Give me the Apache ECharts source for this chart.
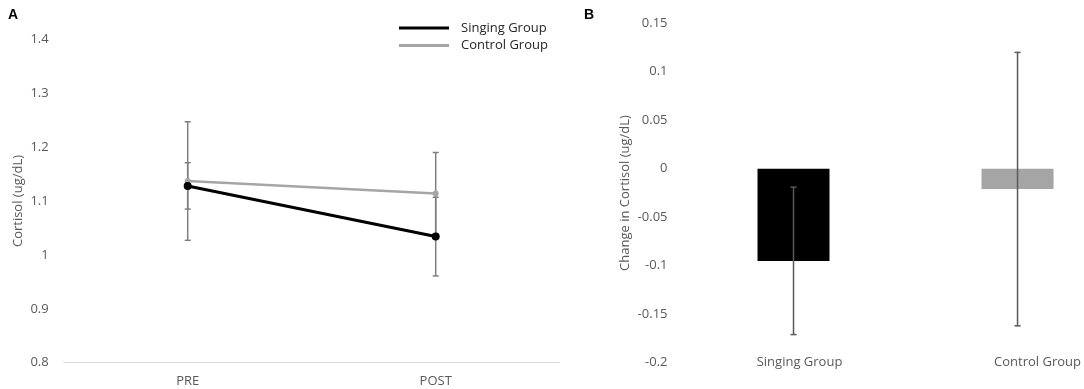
<!DOCTYPE html>
<html lang="en">

<head>
  <meta charset="UTF-8">
  <title>Cortisol</title>
  <script src="https://cdn.jsdelivr.net/npm/echarts@6/dist/echarts.min.js"></script>
  <style>
    * {
      margin: 0;
      padding: 0;
      box-sizing: border-box;
    }

    #chart {
      width: 1084px;
      height: 389px;
      background: #fff;
    }
  </style>
</head>

<body>
  <div id="chart"></div>

  <script>
    // panel A: cortisol at PRE / POST
    const timepoints = ['PRE', 'POST'];
    const singingMean = [1.128, 1.034];
    const singingErr = [0.043, 0.073];
    const controlMean = [1.137, 1.114];
    const controlErr = [0.110, 0.076];
    const cortisolTicks = { min: 0.8, max: 1.4, step: 0.1 };

    // panel B: change in cortisol
    const groups = ['Singing Group', 'Control Group'];
    const changeMean = [-0.095, -0.021];
    const changeErr = [0.076, 0.141];
    const changeTicks = { min: -0.2, max: 0.15, step: 0.05 };

    const FONT = '"Open Sans", sans-serif';
    const labelColor = '#595959';

    // [category index, low, high] for the custom error bar series
    function errRows(mean, err) {
      return mean.map((m, i) => [i, m - err[i], m + err[i]]);
    }

    function errBar(color) {
      return function (params, api) {
        const lo = api.coord([api.value(0), api.value(1)]);
        const hi = api.coord([api.value(0), api.value(2)]);
        const cap = 3;
        const style = { stroke: color, lineWidth: 1.5 };
        return {
          type: 'group',
          children: [
            { type: 'line', shape: { x1: lo[0], y1: lo[1], x2: hi[0], y2: hi[1] }, style },
            { type: 'line', shape: { x1: lo[0] - cap, y1: lo[1], x2: lo[0] + cap, y2: lo[1] }, style },
            { type: 'line', shape: { x1: hi[0] - cap, y1: hi[1], x2: hi[0] + cap, y2: hi[1] }, style }
          ]
        };
      };
    }

    const myChart = echarts.init(document.getElementById('chart'));

    const option = {
      animation: false,
      textStyle: { fontFamily: FONT },
      title: [
        { text: 'A', left: 3, top: 3, textStyle: { fontFamily: 'Liberation Sans', fontWeight: 'bold', fontSize: 14, color: '#000' } },
        { text: 'B', left: 579, top: 3, textStyle: { fontFamily: 'Liberation Sans', fontWeight: 'bold', fontSize: 14, color: '#000' } }
      ],
      legend: {
        data: ['Singing Group', 'Control Group'],
        orient: 'vertical',
        left: 394,
        top: 16,
        icon: 'rect',
        itemWidth: 50,
        itemHeight: 3,
        itemGap: 3.4,
        textStyle: { fontFamily: FONT, fontSize: 13, color: '#262626', lineHeight: 14, padding: [0, 0, 0, 7] }
      },
      grid: [
        { left: 63.7, top: 39.3, width: 496, height: 323.4 },
        // the right panel runs past the canvas edge, so its x axis is a value
        // axis whose visible range stops at the edge
        { left: 681.5, right: 0, top: 23.3, height: 339.4 }
      ],
      xAxis: [
        {
          gridIndex: 0,
          type: 'category',
          data: timepoints,
          axisLine: { lineStyle: { color: '#d9d9d9', width: 1 } },
          axisTick: { show: false },
          axisLabel: { color: labelColor, fontSize: 13, margin: 12 }
        },
        {
          gridIndex: 1,
          type: 'value',
          min: -0.5,
          max: 1.283,
          axisLine: { show: false },
          axisTick: { show: false },
          splitLine: { show: false },
          axisLabel: {
            customValues: [0, 1],
            formatter: (v) => `{g${v}|${groups[v]}}`,
            color: labelColor,
            fontSize: 13,
            margin: 0,
            verticalAlign: 'middle',
            rich: {
              g0: { color: labelColor, fontSize: 13, padding: [0, 0, 0, 12] },
              g1: { color: labelColor, fontSize: 13, padding: [0, 0, 0, 40] }
            }
          }
        }
      ],
      yAxis: [
        {
          gridIndex: 0,
          type: 'value',
          min: cortisolTicks.min,
          max: cortisolTicks.max,
          interval: cortisolTicks.step,
          name: 'Cortisol (ug/dL)',
          nameLocation: 'middle',
          nameGap: 39,
          nameTextStyle: { color: labelColor, fontSize: 13 },
          axisLine: { show: false },
          axisTick: { show: false },
          splitLine: { show: false },
          axisLabel: { color: labelColor, fontSize: 13, margin: 15 }
        },
        {
          gridIndex: 1,
          type: 'value',
          min: changeTicks.min,
          max: changeTicks.max,
          interval: changeTicks.step,
          name: 'Change in Cortisol (ug/dL)',
          nameLocation: 'middle',
          nameGap: 50,
          nameTextStyle: { color: labelColor, fontSize: 13 },
          axisLine: { show: false },
          axisTick: { show: false },
          splitLine: { show: false },
          axisLabel: { color: labelColor, fontSize: 13, margin: 14 }
        }
      ],
      series: [
        {
          name: 'errA',
          type: 'custom',
          xAxisIndex: 0,
          yAxisIndex: 0,
          renderItem: errBar('#7f7f7f'),
          data: errRows(controlMean, controlErr).concat(errRows(singingMean, singingErr)),
          z: 1
        },
        {
          name: 'Control Group',
          type: 'line',
          xAxisIndex: 0,
          yAxisIndex: 0,
          data: controlMean,
          color: '#a5a5a5',
          lineStyle: { width: 2.5, color: '#a5a5a5' },
          symbol: 'circle',
          symbolSize: 6,
          itemStyle: { color: '#a5a5a5' },
          z: 2
        },
        {
          name: 'Singing Group',
          type: 'line',
          xAxisIndex: 0,
          yAxisIndex: 0,
          data: singingMean,
          color: '#000',
          lineStyle: { width: 3, color: '#000' },
          symbol: 'circle',
          symbolSize: 8,
          itemStyle: { color: '#000' },
          z: 3
        },
        {
          name: 'Change',
          type: 'bar',
          xAxisIndex: 1,
          yAxisIndex: 1,
          barWidth: 72,
          data: changeMean.map((v, i) => ({
            value: [i, v],
            itemStyle: { color: i === 0 ? '#000' : '#a5a5a5' }
          })),
          z: 2
        },
        {
          name: 'errB',
          type: 'custom',
          xAxisIndex: 1,
          yAxisIndex: 1,
          renderItem: errBar('#595959'),
          data: errRows(changeMean, changeErr),
          z: 3
        }
      ]
    };

    myChart.setOption(option);
  </script>
</body>

</html>
